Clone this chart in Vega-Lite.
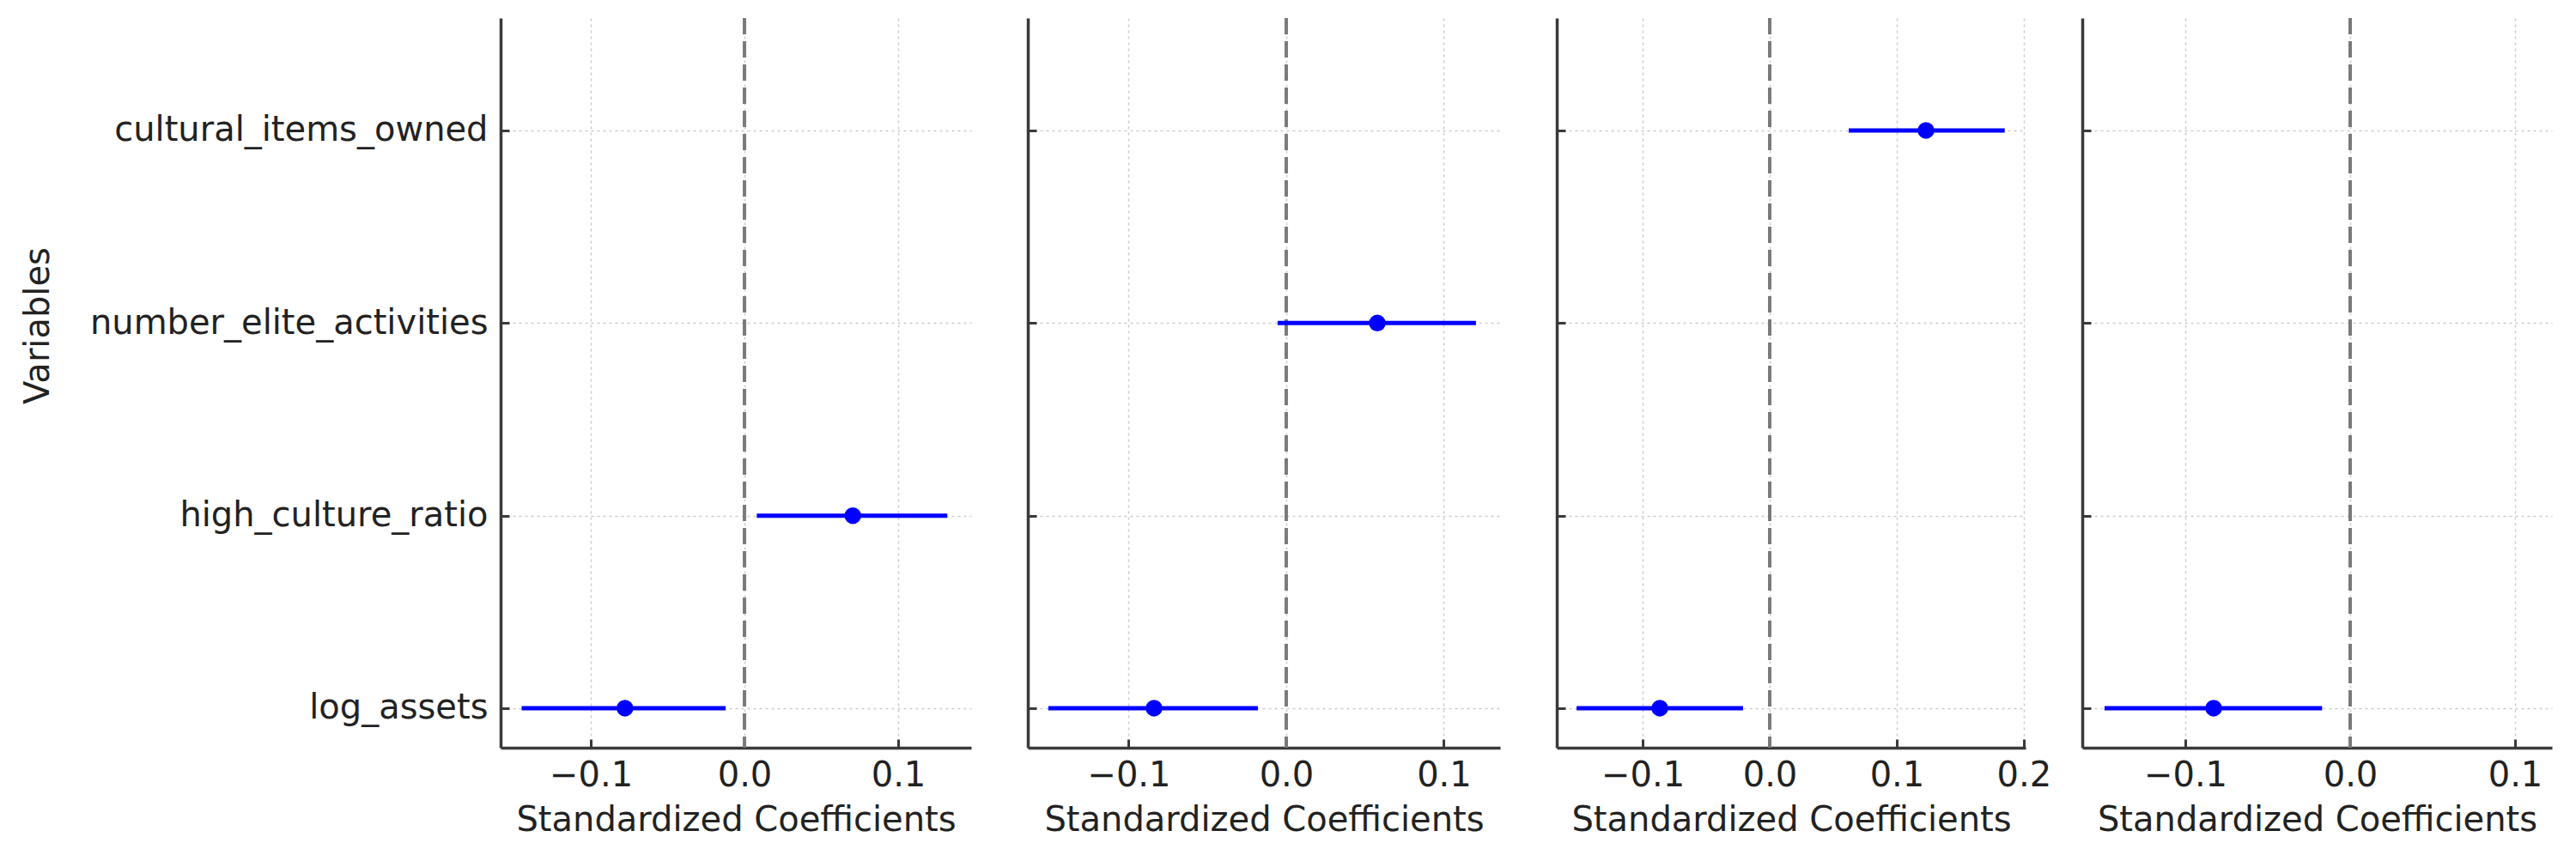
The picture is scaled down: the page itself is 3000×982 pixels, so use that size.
{
  "$schema": "https://vega.github.io/schema/vega-lite/v6.json",
  "background": "white",
  "padding": {"left": 24, "top": 19, "right": 5, "bottom": 5},
  "datasets": {
    "coefs": [
      {"model": 1, "variable": "log_assets", "coef": -0.0778, "lo": -0.145, "hi": -0.0123},
      {"model": 1, "variable": "high_culture_ratio", "coef": 0.0705, "lo": 0.008, "hi": 0.132},
      {"model": 2, "variable": "log_assets", "coef": -0.0839, "lo": -0.151, "hi": -0.018},
      {"model": 2, "variable": "number_elite_activities", "coef": 0.0578, "lo": -0.0055, "hi": 0.1204},
      {"model": 3, "variable": "log_assets", "coef": -0.0865, "lo": -0.152, "hi": -0.021},
      {"model": 3, "variable": "cultural_items_owned", "coef": 0.123, "lo": 0.0622, "hi": 0.185},
      {"model": 4, "variable": "log_assets", "coef": -0.0828, "lo": -0.149, "hi": -0.017}
    ]
  },
  "data": {"name": "coefs"},
  "bounds": "flush",
  "spacing": 66,
  "hconcat": [
    {
      "width": 548,
      "height": 850,
      "transform": [{"filter": "datum.model == 1"}],
      "layer": [
        {
          "data": {"values": [{"ref": 0}]},
          "mark": {"type": "rule", "color": "#7a7a7a", "strokeWidth": 4, "strokeDash": [19, 8]},
          "encoding": {
            "x": {"field": "ref", "type": "quantitative", "scale": {"domain": [-0.1587, 0.1475], "nice": false, "zero": false},
              "axis": {"title": "Standardized Coefficients", "values": [-0.1, 0, 0.1], "format": ".1f"}}
          }
        },
        {
          "mark": {"type": "rule", "color": "#0000ff", "strokeWidth": 5},
          "encoding": {
            "x": {"field": "lo", "type": "quantitative", "scale": {"domain": [-0.1587, 0.1475], "nice": false, "zero": false}},
            "x2": {"field": "hi"},
            "y": {"field": "variable", "type": "nominal",
              "scale": {"type": "point", "domain": ["cultural_items_owned", "number_elite_activities", "high_culture_ratio", "log_assets"], "padding": 0.3945, "align": 0.74},
              "axis": {"title": "Variables", "titleX": -539, "titleY": 358, "titleAngle": -90, "titleBaseline": "middle", "titleAlign": "center", "labelPadding": 25}}
          }
        },
        {
          "mark": {"type": "point", "shape": "circle", "filled": true, "color": "#0000ff", "opacity": 1, "size": 380},
          "encoding": {
            "x": {"field": "coef", "type": "quantitative"},
            "y": {"field": "variable", "type": "nominal"}
          }
        }
      ]
    },
    {
      "width": 550,
      "height": 850,
      "transform": [{"filter": "datum.model == 2"}],
      "layer": [
        {
          "data": {"values": [{"ref": 0}]},
          "mark": {"type": "rule", "color": "#7a7a7a", "strokeWidth": 4, "strokeDash": [19, 8]},
          "encoding": {
            "x": {"field": "ref", "type": "quantitative", "scale": {"domain": [-0.164, 0.1357], "nice": false, "zero": false},
              "axis": {"title": "Standardized Coefficients", "values": [-0.1, 0, 0.1], "format": ".1f"}}
          }
        },
        {
          "mark": {"type": "rule", "color": "#0000ff", "strokeWidth": 5},
          "encoding": {
            "x": {"field": "lo", "type": "quantitative", "scale": {"domain": [-0.164, 0.1357], "nice": false, "zero": false}},
            "x2": {"field": "hi"},
            "y": {"field": "variable", "type": "nominal",
              "scale": {"type": "point", "domain": ["cultural_items_owned", "number_elite_activities", "high_culture_ratio", "log_assets"], "padding": 0.3945, "align": 0.74},
              "axis": {"title": null, "labels": false}}
          }
        },
        {
          "mark": {"type": "point", "shape": "circle", "filled": true, "color": "#0000ff", "opacity": 1, "size": 380},
          "encoding": {
            "x": {"field": "coef", "type": "quantitative"},
            "y": {"field": "variable", "type": "nominal"}
          }
        }
      ]
    },
    {
      "width": 546,
      "height": 850,
      "transform": [{"filter": "datum.model == 3"}],
      "layer": [
        {
          "data": {"values": [{"ref": 0}]},
          "mark": {"type": "rule", "color": "#7a7a7a", "strokeWidth": 4, "strokeDash": [19, 8]},
          "encoding": {
            "x": {"field": "ref", "type": "quantitative", "scale": {"domain": [-0.1676, 0.2014], "nice": false, "zero": false},
              "axis": {"title": "Standardized Coefficients", "values": [-0.1, 0, 0.1, 0.2], "format": ".1f"}}
          }
        },
        {
          "mark": {"type": "rule", "color": "#0000ff", "strokeWidth": 5},
          "encoding": {
            "x": {"field": "lo", "type": "quantitative", "scale": {"domain": [-0.1676, 0.2014], "nice": false, "zero": false}},
            "x2": {"field": "hi"},
            "y": {"field": "variable", "type": "nominal",
              "scale": {"type": "point", "domain": ["cultural_items_owned", "number_elite_activities", "high_culture_ratio", "log_assets"], "padding": 0.3945, "align": 0.74},
              "axis": {"title": null, "labels": false}}
          }
        },
        {
          "mark": {"type": "point", "shape": "circle", "filled": true, "color": "#0000ff", "opacity": 1, "size": 380},
          "encoding": {
            "x": {"field": "coef", "type": "quantitative"},
            "y": {"field": "variable", "type": "nominal"}
          }
        }
      ]
    },
    {
      "width": 547,
      "height": 850,
      "transform": [{"filter": "datum.model == 4"}],
      "layer": [
        {
          "data": {"values": [{"ref": 0}]},
          "mark": {"type": "rule", "color": "#7a7a7a", "strokeWidth": 4, "strokeDash": [19, 8]},
          "encoding": {
            "x": {"field": "ref", "type": "quantitative", "scale": {"domain": [-0.1625, 0.1224], "nice": false, "zero": false},
              "axis": {"title": "Standardized Coefficients", "values": [-0.1, 0, 0.1], "format": ".1f"}}
          }
        },
        {
          "mark": {"type": "rule", "color": "#0000ff", "strokeWidth": 5},
          "encoding": {
            "x": {"field": "lo", "type": "quantitative", "scale": {"domain": [-0.1625, 0.1224], "nice": false, "zero": false}},
            "x2": {"field": "hi"},
            "y": {"field": "variable", "type": "nominal",
              "scale": {"type": "point", "domain": ["cultural_items_owned", "number_elite_activities", "high_culture_ratio", "log_assets"], "padding": 0.3945, "align": 0.74},
              "axis": {"title": null, "labels": false}}
          }
        },
        {
          "mark": {"type": "point", "shape": "circle", "filled": true, "color": "#0000ff", "opacity": 1, "size": 380},
          "encoding": {
            "x": {"field": "coef", "type": "quantitative"},
            "y": {"field": "variable", "type": "nominal"}
          }
        }
      ]
    }
  ],
  "config": {
    "font": "DejaVu Sans",
    "view": {"stroke": null},
    "axis": {
      "grid": true,
      "gridColor": "#cccccc",
      "gridDash": [3, 4],
      "gridWidth": 1.5,
      "domainColor": "#3a3a3a",
      "domainWidth": 3.5,
      "tickColor": "#3a3a3a",
      "tickWidth": 3,
      "tickSize": -10,
      "labelFont": "DejaVu Sans",
      "labelFontSize": 40,
      "labelColor": "#222222",
      "labelLimit": 0,
      "labelFlush": false,
      "labelOverlap": false,
      "titleFont": "DejaVu Sans",
      "titleFontSize": 40,
      "titleFontWeight": "normal",
      "titleColor": "#222222"
    },
    "axisX": {
      "labelBaseline": "alphabetic",
      "labelPadding": 54,
      "titleBaseline": "alphabetic",
      "titleY": 96
    }
  }
}
